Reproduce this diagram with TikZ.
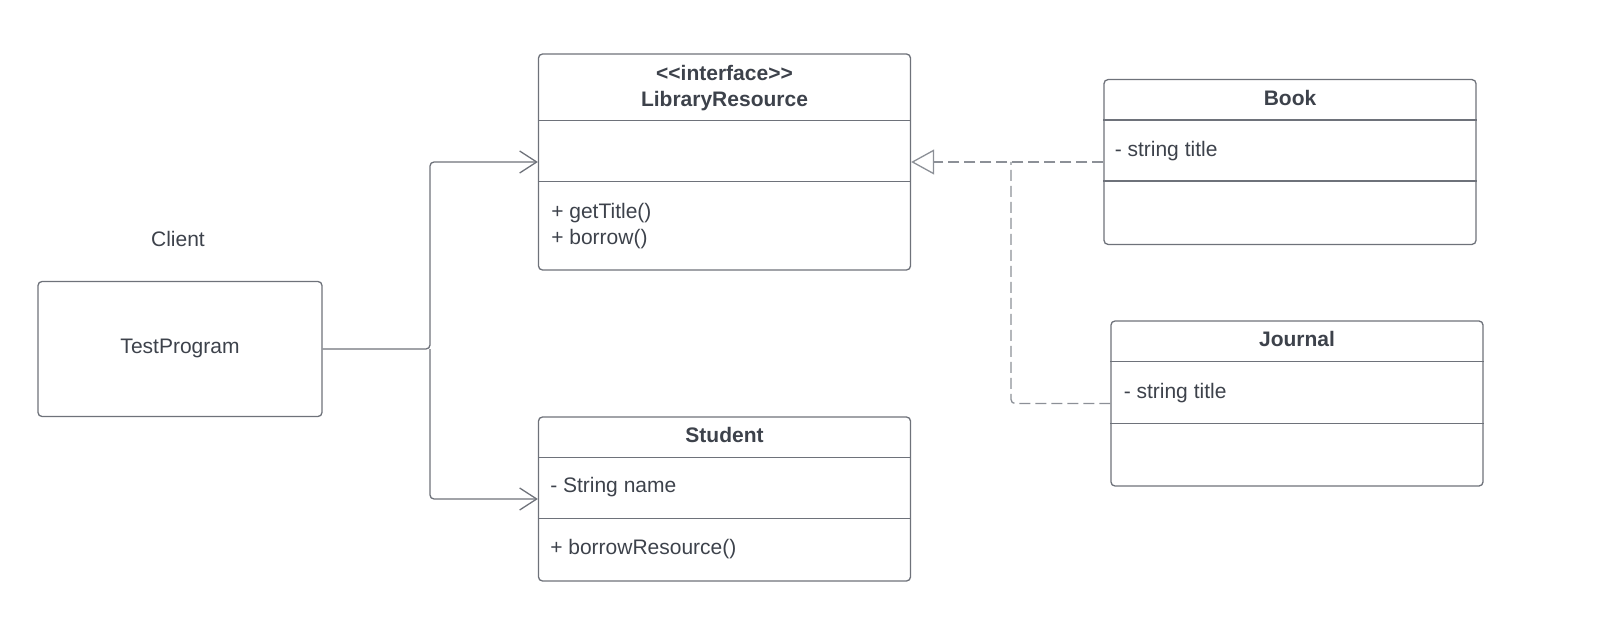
\documentclass[tikz,border=0pt]{standalone}
\usepackage{fontspec}
\setmainfont{Liberation Sans}
\usetikzlibrary{arrows.meta,positioning,calc}

\definecolor{linegray}{HTML}{6E727A}
\definecolor{textgray}{HTML}{3D424B}
\definecolor{dashgray}{HTML}{8C9097}

\begin{document}
\begin{tikzpicture}[x=0.5pt, y=-0.5pt, font=\fontsize{10.5}{12.8}\selectfont, text=textgray,
    classbox/.style={rectangle, draw=linegray, line width=0.65pt, rounded corners=2pt, minimum width=186pt, inner sep=0pt},
    divider/.style={draw=linegray, line width=0.6pt},
    titletext/.style={font=\fontsize{10.5}{12.8}\selectfont\bfseries, align=center, inner sep=0pt},
    membertext/.style={anchor=west, align=left, inner sep=0pt},
    conn/.style={draw=linegray, line width=0.65pt, rounded corners=2pt},
    realize/.style={draw=dashgray, line width=0.65pt, dash pattern=on 5.5pt off 2.5pt, rounded corners=2pt}]
    \useasboundingbox (0,0) rectangle (1624,631);

    % Interface
    \node[classbox, minimum height=108pt] (libres) at (724.5,162) {};
    \draw[divider] ($(libres.north west)+(0,67)$) -- ($(libres.north east)+(0,67)$);
    \draw[divider] ($(libres.north west)+(0,128)$) -- ($(libres.north east)+(0,128)$);
    \node[titletext] (libres_title) at (724.5,88) {<{}<interface>{}>\\LibraryResource};
    \node[membertext] (libres_ops) at ($(libres.west)+(13,64)$) {+ getTitle()\\+ borrow()};

    % Implementations
    \node[classbox, minimum height=82.4pt] (book) at (1290,162) {};
    \draw[divider] ($(book.north west)+(0,41)$) -- ($(book.north east)+(0,41)$);
    \draw[divider] ($(book.north west)+(0,102)$) -- ($(book.north east)+(0,102)$);
    \node[titletext] (book_title) at (1290,98) {Book};
    \node[membertext] (book_attr) at ($(book.west)+(11,-11)$) {- string title};

    \node[classbox, minimum height=82.5pt] (journal) at (1297,403.5) {};
    \draw[divider] ($(journal.north west)+(0,41.5)$) -- ($(journal.north east)+(0,41.5)$);
    \draw[divider] ($(journal.north west)+(0,103.5)$) -- ($(journal.north east)+(0,103.5)$);
    \node[titletext] (journal_title) at (1297,338.5) {Journal};
    \node[membertext] (journal_attr) at ($(journal.west)+(13,-10)$) {- string title};

    % Student
    \node[classbox, minimum height=82pt] (student) at (724.5,499) {};
    \draw[divider] ($(student.north west)+(0,41)$) -- ($(student.north east)+(0,41)$);
    \draw[divider] ($(student.north west)+(0,102)$) -- ($(student.north east)+(0,102)$);
    \node[titletext] (student_title) at (724.5,435) {Student};
    \node[membertext] (student_attr) at ($(student.west)+(12,-12)$) {- String name};
    \node[membertext] (student_ops) at ($(student.west)+(12,50)$) {+ borrowResource()};

    % Client
    \node[classbox, minimum width=142pt, minimum height=67.5pt] (testprog) at (180,349) {};
    \node[inner sep=0pt] (testprog_name) at (180,348) {TestProgram};
    \node[inner sep=0pt] (client) at (178,239) {Client};

    % Connectors
    \coordinate (fork) at (430,349);
    \draw[conn, -{Straight Barb[length=8.5pt, width=11pt]}] (testprog.east) -- (fork) |- (libres.west);
    \draw[conn, -{Straight Barb[length=8.5pt, width=11pt]}] (fork) |- (student.west);

    \coordinate (merge) at (1011,162);
    \draw[realize, -{Triangle[length=11.5pt, width=12.5pt, fill=white]}] (book.west) -- (libres.east);
    \draw[realize] (journal.west) -| (merge);
\end{tikzpicture}
\end{document}
